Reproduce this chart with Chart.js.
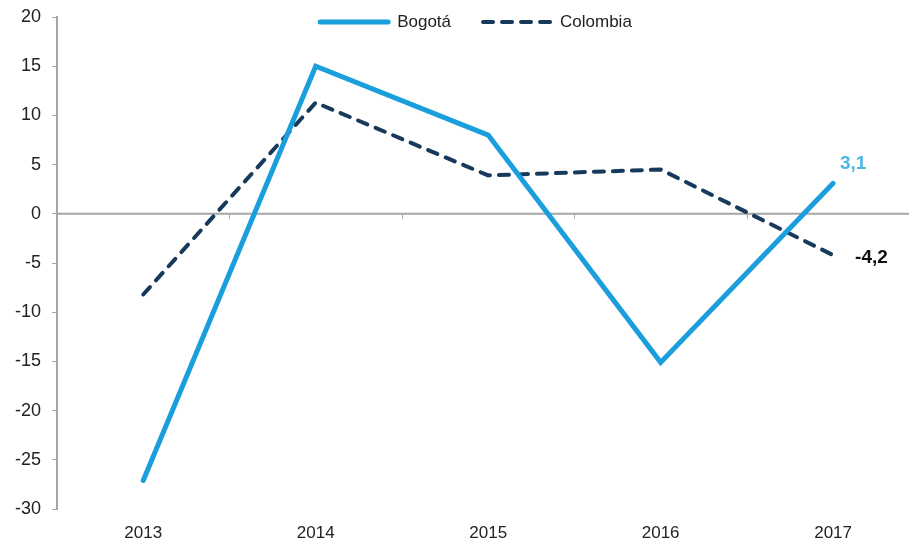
<!DOCTYPE html>
<html>
<head>
<meta charset="utf-8">
<script src="https://cdn.jsdelivr.net/npm/chart.js@4/dist/chart.umd.min.js"></script>
<style>
html,body{margin:0;padding:0;background:#fff;}
#wrap{width:909px;height:548px;position:relative;}
</style>
</head>
<body>
<div id="wrap"><canvas id="c" width="909" height="548"></canvas></div>
<script>
const years = ['2013', '2014', '2015', '2016', '2017'];
const bogota = [-27.1, 15.0, 8.0, -15.1, 3.1];
const colombia = [-8.2, 11.3, 3.9, 4.5, -4.2];
const yTicks = [20, 15, 10, 5, 0, -5, -10, -15, -20, -25, -30];
const lastLabels = ['3,1', '-4,2'];

const FONT = '"Liberation Sans", Arial, sans-serif';
const toPoints = arr => arr.map((v, i) => ({x: i, y: v}));

const zeroAxis = {
  id: 'zeroAxis',
  beforeDatasetsDraw(chart) {
    const {ctx, chartArea, scales} = chart;
    const y0 = scales.y.getPixelForValue(0);
    ctx.save();
    ctx.strokeStyle = '#a6a6a6';
    ctx.lineWidth = 2;
    ctx.beginPath();
    ctx.moveTo(chartArea.left, y0);
    ctx.lineTo(chartArea.right, y0);
    ctx.stroke();
    ctx.lineWidth = 1;
    for (let i = 1; i < years.length; i++) {
      const px = Math.round(scales.x.getPixelForValue(i - 0.5)) + 0.5;
      ctx.beginPath();
      ctx.moveTo(px, y0);
      ctx.lineTo(px, y0 + 5);
      ctx.stroke();
    }
    ctx.restore();
  }
};

const endLabels = {
  id: 'endLabels',
  afterDatasetsDraw(chart) {
    const {ctx} = chart;
    const last = years.length - 1;
    const p0 = chart.getDatasetMeta(0).data[last];
    const p1 = chart.getDatasetMeta(1).data[last];
    ctx.save();
    ctx.font = 'bold 19px ' + FONT;
    ctx.textBaseline = 'middle';
    ctx.fillStyle = '#4db6e2';
    ctx.textAlign = 'center';
    ctx.fillText(lastLabels[0], p0.x + 20, p0.y - 20);
    ctx.fillStyle = '#111';
    ctx.textAlign = 'left';
    ctx.fillText(lastLabels[1], p1.x + 22, p1.y + 3);
    ctx.restore();
  }
};

const customLegend = {
  id: 'customLegend',
  afterDraw(chart) {
    const {ctx, chartArea} = chart;
    const sampleW = 72, gapText = 7, gapItem = 30;
    ctx.save();
    ctx.font = '17px ' + FONT;
    const items = chart.data.datasets.map(ds => ({ds, tw: ctx.measureText(ds.label).width}));
    const total = items.reduce((s, it) => s + sampleW + gapText + it.tw, 0) + gapItem * (items.length - 1);
    let x = (chartArea.left + chartArea.right) / 2 - 8 - total / 2;
    const y = chartArea.top + 5;
    items.forEach(it => {
      ctx.strokeStyle = it.ds.borderColor;
      ctx.lineWidth = it.ds.borderWidth;
      ctx.lineCap = 'round';
      ctx.setLineDash(it.ds.borderDash || []);
      ctx.beginPath();
      ctx.moveTo(x + 2, y);
      ctx.lineTo(x + sampleW - 2, y);
      ctx.stroke();
      ctx.setLineDash([]);
      ctx.fillStyle = '#222';
      ctx.textBaseline = 'middle';
      ctx.textAlign = 'left';
      ctx.fillText(it.ds.label, x + sampleW + gapText, y);
      x += sampleW + gapText + it.tw + gapItem;
    });
    ctx.restore();
  }
};

new Chart(document.getElementById('c'), {
  type: 'line',
  data: {
    datasets: [
      {
        label: 'Bogotá',
        data: toPoints(bogota),
        borderColor: '#1a9fdc',
        backgroundColor: '#1a9fdc',
        borderWidth: 5,
        pointRadius: 0,
        tension: 0,
        borderCapStyle: 'round',
        borderJoinStyle: 'miter'
      },
      {
        label: 'Colombia',
        data: toPoints(colombia),
        borderColor: '#173a5c',
        backgroundColor: '#173a5c',
        borderWidth: 4,
        borderDash: [10, 9],
        borderCapStyle: 'round',
        pointRadius: 0,
        tension: 0
      }
    ]
  },
  options: {
    responsive: false,
    animation: false,
    layout: {padding: {top: 17, right: 0, left: 0, bottom: 0}},
    plugins: {
      legend: {display: false},
      tooltip: {enabled: false}
    },
    scales: {
      x: {
        type: 'linear',
        min: -0.5,
        max: 4.44,
        afterBuildTicks(s) { s.ticks = years.map((y, i) => ({value: i})); },
        grid: {display: false, drawTicks: false},
        border: {display: false},
        ticks: {
          color: '#222',
          padding: 14,
          autoSkip: false,
          maxRotation: 0,
          callback: (v) => years[v],
          font: {family: FONT, size: 17}
        },
        afterFit(s) { s.height = 39; s.paddingLeft = 0; s.paddingRight = 0; }
      },
      y: {
        min: -30,
        max: 20,
        afterBuildTicks(s) { s.ticks = yTicks.map(v => ({value: v})); },
        grid: {drawOnChartArea: false, tickLength: 5, color: '#a6a6a6', lineWidth: 1},
        border: {display: true, color: '#a6a6a6', width: 2},
        ticks: {
          color: '#222',
          padding: 11,
          font: {family: FONT, size: 18}
        },
        afterFit(s) { s.width = 57; s.paddingTop = 0; s.paddingBottom = 0; }
      }
    }
  },
  plugins: [zeroAxis, endLabels, customLegend]
});
</script>
</body>
</html>
